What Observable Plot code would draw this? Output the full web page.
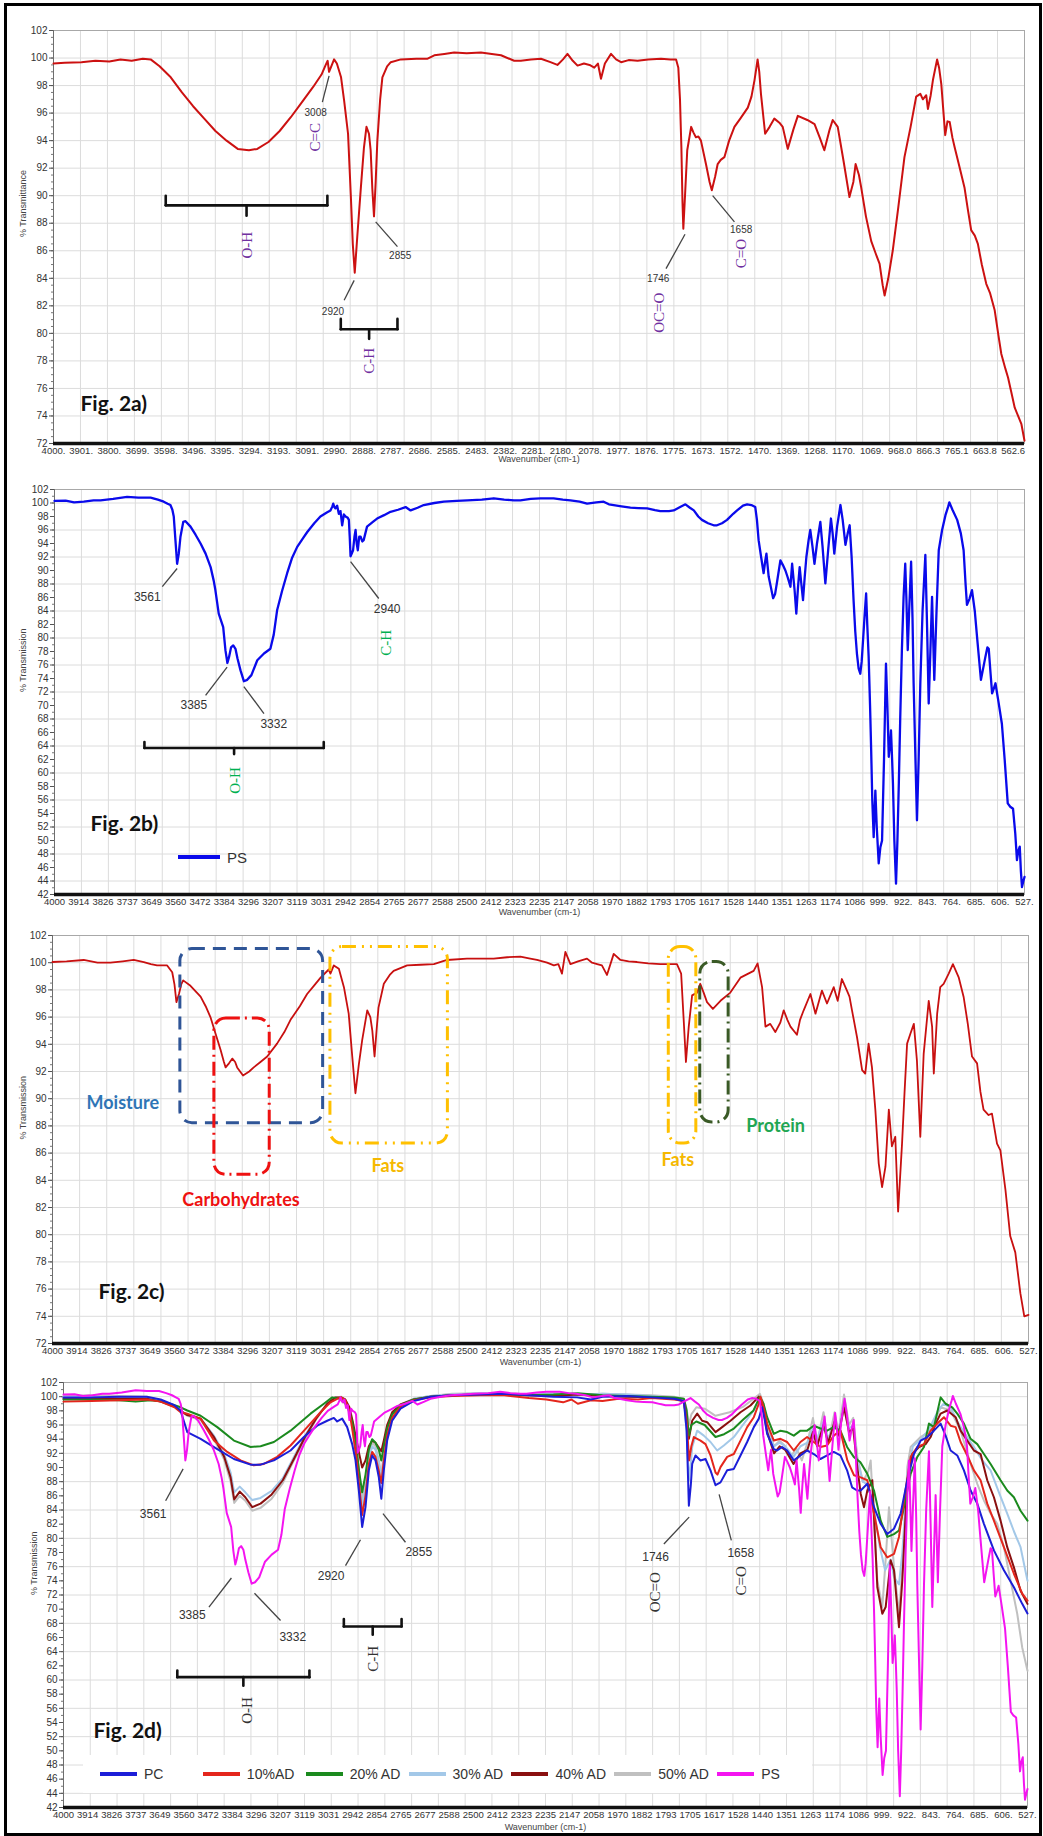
<!DOCTYPE html>
<html>
<head>
<meta charset="utf-8">
<script src="https://cdn.jsdelivr.net/npm/d3@7"></script>
<script src="https://cdn.jsdelivr.net/npm/@observablehq/plot@0.6"></script>
<style>
  body { margin: 0; background: #fff; }
  #wrap { position: relative; width: 1043px; height: 1836px; overflow: hidden; background: #fff; font-family: "Liberation Sans", Arial, sans-serif; }
  .panel { position: absolute; left: 0; }
  #frame { position: absolute; left: 4px; top: 3px; width: 1032px; height: 1827px; border: 3px solid #000; pointer-events: none; }
  .legend { position: absolute; display: flex; align-items: center; color: #333; }
  .item { display: flex; align-items: center; }
  .sw { display: inline-block; height: 4px; margin-right: 7px; }
</style>
</head>
<body>
<div id="wrap"></div>
<script>
// ---------------- DATA ----------------
// Tick labels as printed by the instrument software
const xLabelsA = ["4000.","3901.","3800.","3699.","3598.","3496.","3395.","3294.","3193.","3091.","2990.","2888.","2787.","2686.","2585.","2483.","2382.","2281.","2180.","2078.","1977.","1876.","1775.","1673.","1572.","1470.","1369.","1268.","1170.","1069.","968.0","866.3","765.1","663.8","562.6"];
const xLabelsBCD = ["4000","3914","3826","3737","3649","3560","3472","3384","3296","3207","3119","3031","2942","2854","2765","2677","2588","2500","2412","2323","2235","2147","2058","1970","1882","1793","1705","1617","1528","1440","1351","1263","1174","1086","999.","922.","843.","764.","685.","606.","527."];

// Fig. 2a) spectrum [wavenumber, %T]
const specA = [[4000,99.6],[3960,99.65],[3900,99.7],[3850,99.8],[3800,99.75],[3760,99.9],[3720,99.8],[3680,99.95],[3652,99.9],[3620,99.4],[3580,98.6],[3540,97.5],[3500,96.5],[3460,95.6],[3420,94.7],[3380,94.0],[3340,93.4],[3300,93.3],[3270,93.4],[3230,93.9],[3190,94.7],[3150,95.7],[3110,96.8],[3070,97.9],[3040,98.8],[3025,99.5],[3018,99.8],[3013,99.0],[3005,99.4],[2995,99.9],[2985,99.6],[2970,98.6],[2959,96.9],[2945,94.5],[2935,90.0],[2928,86.5],[2921,84.4],[2912,87.0],[2899,90.6],[2888,93.5],[2879,95.0],[2870,94.5],[2864,93.3],[2858,90.5],[2852,88.5],[2846,91.0],[2840,94.0],[2830,97.0],[2822,98.6],[2805,99.4],[2792,99.7],[2756,99.9],[2700,99.95],[2660,99.95],[2636,100.2],[2600,100.3],[2565,100.4],[2520,100.35],[2469,100.4],[2430,100.3],[2397,100.2],[2350,99.8],[2326,99.8],[2290,99.9],[2254,99.95],[2220,99.7],[2195,99.5],[2175,99.9],[2159,100.3],[2140,99.8],[2123,99.45],[2100,99.6],[2080,99.5],[2063,99.3],[2050,99.6],[2039,98.5],[2025,99.6],[2003,100.3],[1985,99.9],[1967,99.7],[1940,99.85],[1908,99.8],[1870,99.9],[1824,99.95],[1790,99.9],[1770,99.9],[1762,99.3],[1756,97.0],[1751,93.5],[1747,89.5],[1744,87.6],[1738,90.0],[1730,93.3],[1716,95.0],[1708,94.6],[1699,94.25],[1690,94.3],[1681,94.0],[1663,92.3],[1650,91.0],[1642,90.4],[1630,91.4],[1621,92.3],[1610,92.6],[1597,92.8],[1580,94.0],[1561,95.0],[1540,95.6],[1513,96.4],[1500,97.2],[1489,98.4],[1478,99.9],[1472,99.0],[1466,97.4],[1451,94.5],[1435,95.0],[1418,95.6],[1400,95.3],[1388,95.0],[1370,93.4],[1350,94.8],[1334,95.8],[1300,95.5],[1274,95.2],[1255,94.2],[1239,93.3],[1220,94.8],[1209,95.5],[1191,95.0],[1170,92.5],[1149,89.9],[1135,91.0],[1127,92.3],[1115,91.5],[1107,90.6],[1090,88.5],[1071,86.7],[1055,85.8],[1041,85.05],[1030,83.5],[1023,82.75],[1010,84.0],[994,86.0],[975,89.0],[952,92.8],[930,95.0],[910,97.2],[895,97.4],[886,97.0],[874,97.3],[868,96.3],[858,97.3],[850,98.4],[835,99.9],[828,99.3],[820,98.1],[806,94.4],[798,95.4],[790,95.35],[780,94.2],[772,93.5],[755,92.1],[737,90.6],[725,89.0],[713,87.5],[700,87.1],[689,86.5],[675,85.0],[659,83.6],[645,82.9],[629,81.7],[615,79.8],[605,78.5],[590,77.4],[581,76.8],[570,75.8],[557,74.6],[545,74.0],[533,73.4],[522,72.2]];

// PS spectrum (Fig. 2b, also PS in Fig. 2d)
const specPS = [[4000,100.3],[3960,100.35],[3930,100.1],[3895,100.2],[3860,100.4],[3835,100.4],[3790,100.6],[3740,100.9],[3700,100.8],[3656,100.8],[3630,100.5],[3609,100.2],[3595,99.9],[3585,99.7],[3578,99.0],[3573,98.0],[3567,94.5],[3561,91.0],[3555,92.5],[3549,95.0],[3539,97.2],[3531,97.3],[3513,96.5],[3495,95.3],[3477,94.0],[3459,92.5],[3441,90.5],[3430,88.5],[3424,87.1],[3412,83.6],[3396,81.6],[3388,78.2],[3381,76.3],[3375,77.2],[3368,78.6],[3360,78.9],[3352,78.4],[3345,77.0],[3334,75.2],[3322,73.6],[3310,73.8],[3295,74.5],[3274,76.7],[3250,77.7],[3227,78.4],[3215,80.5],[3203,84.1],[3185,87.0],[3167,89.6],[3150,91.8],[3131,93.5],[3110,94.8],[3095,95.7],[3070,97.0],[3048,98.0],[3025,98.6],[3012,98.9],[3005,99.5],[3002,99.9],[2998,99.4],[2994,99.2],[2988,99.6],[2982,98.4],[2976,98.8],[2970,96.7],[2964,98.3],[2958,98.0],[2950,97.8],[2946,97.5],[2943,95.0],[2940,92.1],[2935,92.6],[2931,93.0],[2926,95.0],[2922,96.0],[2918,94.0],[2914,93.0],[2909,95.0],[2904,95.0],[2898,94.3],[2893,94.5],[2881,96.5],[2860,97.2],[2845,97.7],[2820,98.2],[2797,98.7],[2770,99.0],[2743,99.4],[2725,98.9],[2700,99.3],[2678,99.7],[2640,100.0],[2606,100.2],[2560,100.3],[2522,100.4],[2470,100.5],[2427,100.7],[2390,100.5],[2355,100.4],[2332,100.4],[2295,100.6],[2260,100.7],[2213,100.7],[2180,100.5],[2153,100.4],[2120,100.2],[2093,99.9],[2060,100.1],[2034,100.2],[2015,99.8],[1998,99.7],[1970,99.5],[1938,99.3],[1910,99.25],[1878,99.2],[1850,98.95],[1831,98.8],[1800,98.8],[1783,98.9],[1760,99.4],[1741,99.8],[1725,99.3],[1711,98.9],[1695,98.0],[1682,97.5],[1660,97.0],[1640,96.7],[1628,96.7],[1610,97.0],[1592,97.5],[1570,98.4],[1556,98.9],[1535,99.6],[1520,99.8],[1505,99.7],[1491,99.4],[1485,97.5],[1479,94.5],[1470,92.0],[1461,89.6],[1455,91.5],[1451,92.5],[1443,89.1],[1435,87.5],[1427,85.9],[1420,86.5],[1413,88.3],[1401,91.5],[1392,90.8],[1383,90.0],[1375,89.0],[1365,87.6],[1359,91.0],[1350,87.0],[1344,83.6],[1338,87.5],[1332,90.5],[1326,88.0],[1320,85.6],[1314,89.0],[1308,92.0],[1300,94.5],[1294,96.0],[1286,93.5],[1279,91.0],[1270,94.0],[1258,97.2],[1250,93.5],[1240,88.1],[1230,93.0],[1220,97.7],[1214,95.5],[1208,92.5],[1198,96.5],[1186,99.7],[1178,97.5],[1168,93.8],[1160,95.5],[1153,96.7],[1146,92.0],[1139,85.6],[1133,81.0],[1127,77.7],[1121,75.5],[1115,74.7],[1110,76.5],[1105,79.7],[1100,83.0],[1094,86.6],[1090,82.0],[1085,77.2],[1080,70.0],[1076,63.4],[1072,56.0],[1067,50.5],[1064,54.0],[1061,57.4],[1056,52.0],[1049,46.6],[1043,49.0],[1037,50.0],[1030,62.0],[1023,76.2],[1018,70.0],[1013,62.4],[1009,64.0],[1005,66.3],[1001,62.0],[998,58.4],[993,50.0],[987,43.6],[982,50.0],[977,58.4],[972,68.0],[966,78.2],[960,86.0],[954,91.0],[950,86.0],[945,78.2],[940,84.0],[933,91.3],[928,83.0],[924,73.3],[918,63.0],[912,53.0],[906,62.0],[900,73.3],[892,84.0],[882,92.3],[876,82.0],[870,70.3],[864,78.0],[858,86.1],[854,80.0],[850,73.8],[842,84.0],[834,93.0],[822,96.0],[810,98.2],[800,99.5],[796,100.1],[785,99.0],[768,97.5],[755,95.5],[745,93.0],[738,88.0],[733,84.9],[724,85.8],[715,87.1],[705,84.0],[697,80.2],[690,77.0],[683,73.8],[675,75.5],[667,77.2],[660,78.6],[655,78.4],[649,75.0],[643,71.8],[637,72.5],[631,73.3],[620,70.5],[608,67.3],[598,62.0],[587,55.5],[578,55.0],[568,54.7],[560,51.0],[554,47.1],[549,48.5],[544,49.1],[540,45.5],[536,43.1],[531,44.0],[527,44.6]];

// Fig. 2c) spectrum
const specC = [[4000,100.05],[3950,100.1],[3889,100.2],[3840,100.0],[3794,100.0],[3750,100.1],[3711,100.2],[3675,100.05],[3650,99.9],[3628,99.8],[3592,99.8],[3574,99.3],[3566,98.4],[3559,97.1],[3550,97.7],[3542,98.4],[3535,98.7],[3509,98.3],[3473,97.5],[3455,96.8],[3438,96.0],[3420,94.8],[3402,93.6],[3390,92.7],[3384,92.3],[3372,92.6],[3360,92.95],[3350,92.7],[3343,92.3],[3322,91.7],[3300,92.0],[3284,92.3],[3260,92.7],[3236,93.1],[3201,94.05],[3175,94.9],[3153,95.8],[3120,96.8],[3094,97.7],[3070,98.3],[3046,98.9],[3017,99.5],[3011,99.2],[2999,99.8],[2981,99.55],[2963,98.2],[2946,96.25],[2935,93.5],[2922,90.4],[2910,92.5],[2898,94.3],[2880,96.5],[2869,96.0],[2862,95.0],[2854,93.1],[2847,95.0],[2840,96.7],[2821,98.45],[2800,99.1],[2786,99.4],[2738,99.8],[2690,99.85],[2643,99.9],[2596,100.2],[2525,100.3],[2430,100.3],[2382,100.4],[2335,100.45],[2300,100.3],[2276,100.2],[2240,100.0],[2216,99.8],[2200,99.9],[2187,99.2],[2175,100.8],[2157,99.9],[2130,100.1],[2098,100.3],[2080,100.0],[2062,99.9],[2045,99.8],[2027,99.1],[2003,100.65],[1979,100.2],[1950,100.1],[1920,100.05],[1880,99.95],[1837,99.9],[1800,99.9],[1778,99.9],[1763,99.2],[1754,95.8],[1746,92.7],[1736,95.3],[1724,97.6],[1706,97.8],[1695,98.45],[1683,97.8],[1671,97.1],[1650,96.6],[1623,97.2],[1588,97.8],[1552,98.9],[1505,99.4],[1491,99.95],[1475,98.2],[1463,95.3],[1446,95.5],[1428,94.9],[1410,95.6],[1398,96.5],[1385,95.8],[1374,95.3],[1351,94.7],[1340,95.8],[1327,96.5],[1303,97.7],[1285,96.25],[1262,97.95],[1244,97.0],[1220,98.2],[1206,97.2],[1191,98.8],[1173,97.95],[1164,97.5],[1155,96.5],[1137,94.5],[1119,92.1],[1108,91.85],[1096,94.05],[1084,92.3],[1072,89.2],[1060,85.25],[1048,83.5],[1036,85.0],[1024,89.2],[1013,86.5],[1001,87.2],[991,81.7],[977,86.7],[968,90.5],[959,94.05],[947,94.8],[935,95.5],[924,92.8],[912,87.2],[900,93.3],[882,97.2],[870,95.3],[864,91.85],[852,96.25],[841,98.2],[829,98.45],[811,99.2],[796,99.9],[775,98.9],[758,97.5],[743,95.5],[728,93.1],[710,92.6],[698,90.5],[687,89.2],[669,88.8],[657,88.9],[639,86.7],[627,86.2],[609,83.3],[592,79.9],[574,78.7],[556,75.7],[542,74.0],[527,74.1]];

// Fig. 2d) series
const dPC = [[4000,99.9],[3900,99.9],[3800,100.0],[3700,100.0],[3650,99.6],[3600,98.8],[3578,98.0],[3566,96.5],[3554,95.0],[3506,94.05],[3446,92.6],[3386,91.2],[3326,90.4],[3290,90.4],[3242,91.0],[3182,92.4],[3134,94.3],[3086,95.9],[3050,96.6],[3026,97.0],[3014,96.5],[2996,96.9],[2978,95.7],[2960,93.3],[2948,91.0],[2936,86.75],[2924,81.6],[2912,84.4],[2900,89.6],[2888,91.7],[2876,91.0],[2864,88.6],[2855,85.6],[2846,89.6],[2834,93.8],[2816,96.6],[2786,98.3],[2738,99.4],[2678,100.0],[2600,100.2],[2500,100.3],[2412,100.4],[2323,100.2],[2235,100.0],[2150,99.9],[2100,99.6],[2058,100.0],[1970,100.1],[1882,99.9],[1800,99.7],[1765,99.4],[1755,95.2],[1747,84.6],[1740,87.5],[1735,90.5],[1723,91.7],[1705,91.0],[1687,91.2],[1669,89.6],[1651,87.5],[1633,87.9],[1609,89.6],[1585,89.8],[1561,91.7],[1537,93.6],[1513,95.7],[1495,96.9],[1483,98.5],[1475,97.0],[1465,94.75],[1441,92.6],[1429,92.4],[1411,92.9],[1393,92.4],[1369,91.0],[1345,91.7],[1321,92.4],[1297,91.9],[1273,91.2],[1249,91.7],[1225,92.2],[1201,91.7],[1177,89.6],[1159,87.2],[1141,86.75],[1128,86.75],[1104,87.7],[1080,84.4],[1056,82.05],[1032,80.6],[1008,81.35],[984,83.5],[960,88.2],[936,91.9],[912,93.8],[888,94.3],[864,95.2],[840,96.2],[822,94.5],[804,92.4],[780,91.7],[756,89.6],[732,86.75],[708,84.9],[684,82.05],[648,78.3],[612,75.5],[576,73.1],[546,70.75],[527,69.4]];
const d10 = [[4000,99.3],[3900,99.4],[3800,99.5],[3700,99.6],[3650,99.3],[3600,98.5],[3578,97.8],[3554,97.6],[3506,96.9],[3458,93.8],[3410,92.2],[3362,91.0],[3314,90.3],[3278,90.5],[3230,91.5],[3182,93.1],[3122,95.7],[3074,97.8],[3038,99.2],[3014,99.7],[3000,99.9],[2985,99.5],[2970,98.0],[2958,95.0],[2945,91.5],[2935,87.5],[2924,83.3],[2912,86.0],[2900,90.5],[2888,92.2],[2876,91.5],[2864,89.5],[2855,87.8],[2846,91.0],[2834,94.5],[2816,97.0],[2786,98.6],[2738,99.5],[2678,99.9],[2600,100.1],[2500,100.2],[2412,100.2],[2323,99.8],[2260,99.6],[2200,99.2],[2170,99.6],[2147,99.0],[2100,99.5],[2058,99.4],[2000,99.7],[1930,99.6],[1882,99.8],[1800,99.6],[1765,99.4],[1755,96.5],[1746,91.0],[1738,93.0],[1729,94.3],[1705,93.8],[1687,93.3],[1669,91.7],[1651,89.3],[1644,89.0],[1633,90.05],[1609,91.5],[1585,91.9],[1561,93.8],[1537,95.7],[1513,97.1],[1495,99.0],[1489,100.0],[1478,98.5],[1465,96.2],[1441,93.8],[1417,94.05],[1393,93.6],[1369,92.4],[1345,93.6],[1321,94.3],[1297,93.6],[1273,92.9],[1249,93.1],[1225,94.5],[1201,95.2],[1176,91.0],[1152,88.9],[1128,88.6],[1104,88.2],[1080,83.5],[1056,78.75],[1032,77.3],[1008,77.8],[990,80.2],[972,85.35],[948,91.5],[924,92.9],[900,93.3],[876,95.2],[852,96.2],[828,97.1],[804,95.9],[786,95.7],[768,93.6],[744,91.7],[720,89.6],[696,88.2],[672,84.9],[648,82.5],[612,78.75],[576,75.0],[546,72.2],[527,71.2]];
const d20 = [[4000,99.6],[3900,99.6],[3800,99.5],[3740,99.3],[3686,99.5],[3640,99.3],[3600,98.8],[3578,98.5],[3554,98.05],[3506,97.3],[3446,95.7],[3386,93.8],[3326,92.9],[3290,93.0],[3242,93.6],[3182,95.2],[3110,97.6],[3062,99.0],[3032,99.9],[3002,99.7],[2978,98.75],[2960,96.5],[2945,93.0],[2935,89.5],[2924,86.5],[2912,89.0],[2900,92.5],[2888,94.0],[2876,93.5],[2864,92.5],[2855,91.0],[2846,93.0],[2834,95.5],[2816,97.5],[2786,98.8],[2738,99.6],[2678,100.0],[2600,100.2],[2500,100.3],[2412,100.3],[2323,100.2],[2235,100.3],[2147,100.5],[2058,100.2],[1970,100.1],[1882,100.0],[1800,99.9],[1765,99.7],[1755,98.0],[1747,94.5],[1738,96.0],[1720,96.5],[1690,96.0],[1651,94.3],[1620,94.7],[1585,95.5],[1550,96.8],[1515,98.0],[1491,100.0],[1478,99.0],[1465,97.1],[1441,94.75],[1417,95.2],[1393,95.0],[1369,94.5],[1345,95.2],[1321,95.2],[1297,95.9],[1273,95.5],[1249,95.2],[1225,95.7],[1201,95.2],[1177,92.9],[1153,91.5],[1129,90.75],[1104,89.1],[1080,86.75],[1056,82.5],[1032,80.2],[1008,80.6],[990,81.1],[972,84.4],[948,89.1],[924,91.5],[900,92.9],[882,96.2],[864,95.7],[840,99.9],[822,99.0],[798,98.5],[780,97.6],[756,96.2],[732,94.05],[708,93.3],[684,91.9],[660,90.5],[624,88.2],[600,86.75],[576,85.8],[552,83.9],[527,82.5]];
const d30 = [[4000,100.0],[3900,100.0],[3800,99.9],[3700,99.9],[3650,99.5],[3600,98.7],[3578,98.0],[3554,97.5],[3506,96.9],[3458,94.5],[3422,92.0],[3398,89.3],[3385,86.5],[3365,87.3],[3345,86.5],[3320,85.4],[3290,85.7],[3250,86.7],[3210,88.5],[3170,91.5],[3130,94.5],[3090,97.0],[3050,99.0],[3020,99.9],[3000,99.8],[2985,99.5],[2970,98.0],[2958,95.5],[2945,91.0],[2935,88.0],[2924,84.5],[2912,87.0],[2900,91.0],[2888,93.0],[2876,92.5],[2864,90.5],[2855,88.5],[2846,91.5],[2834,95.0],[2816,97.3],[2786,98.8],[2738,99.7],[2678,100.1],[2600,100.3],[2500,100.5],[2412,100.4],[2323,100.3],[2235,100.4],[2147,100.3],[2058,100.4],[1970,100.3],[1882,100.1],[1800,99.8],[1765,99.5],[1755,95.0],[1747,88.2],[1740,90.5],[1735,92.9],[1717,95.2],[1693,94.5],[1669,93.6],[1645,92.4],[1621,93.1],[1585,94.3],[1549,96.2],[1513,98.05],[1491,99.9],[1478,98.5],[1465,95.5],[1440,93.0],[1420,93.5],[1400,93.0],[1370,91.5],[1345,93.0],[1320,93.5],[1300,95.5],[1285,94.0],[1262,96.5],[1245,94.0],[1222,96.5],[1208,95.0],[1188,99.0],[1170,95.5],[1155,96.0],[1140,91.0],[1120,88.0],[1100,87.5],[1080,84.0],[1060,79.0],[1040,75.5],[1020,77.0],[1008,74.5],[990,73.5],[978,78.0],[960,89.0],[940,93.0],[910,94.0],[880,95.5],[850,98.0],[830,99.0],[804,98.5],[780,96.5],[756,95.0],[720,92.9],[690,91.0],[660,89.6],[630,86.5],[600,83.5],[576,81.0],[552,78.75],[527,74.0]];
const d40 = [[4000,99.7],[3900,99.8],[3800,99.7],[3700,99.7],[3650,99.3],[3600,98.6],[3578,98.0],[3554,97.4],[3506,96.9],[3458,94.3],[3422,91.6],[3398,88.6],[3385,85.5],[3365,86.6],[3345,85.8],[3320,84.4],[3290,84.9],[3250,86.2],[3210,88.2],[3170,91.2],[3130,94.3],[3090,96.9],[3050,99.0],[3020,99.9],[3000,99.9],[2985,99.6],[2970,98.5],[2958,96.5],[2945,94.0],[2935,92.0],[2924,90.0],[2912,91.0],[2900,93.0],[2888,93.8],[2876,93.5],[2864,92.8],[2855,92.3],[2846,93.8],[2834,96.0],[2816,97.8],[2786,98.9],[2738,99.6],[2678,100.0],[2600,100.2],[2500,100.3],[2412,100.3],[2323,100.2],[2235,100.1],[2147,100.3],[2058,100.1],[1970,100.0],[1882,99.9],[1800,99.8],[1765,99.3],[1759,97.8],[1747,94.05],[1735,96.6],[1717,97.6],[1699,96.6],[1681,96.4],[1651,95.0],[1627,95.7],[1597,96.6],[1561,97.8],[1525,98.75],[1495,100.0],[1480,98.5],[1465,95.0],[1440,92.0],[1420,93.0],[1400,92.5],[1370,90.5],[1345,92.0],[1320,92.5],[1300,95.0],[1285,93.0],[1262,96.0],[1245,93.5],[1222,96.5],[1208,94.5],[1188,98.5],[1170,95.0],[1155,95.5],[1140,90.0],[1128,86.3],[1116,84.4],[1104,86.75],[1086,88.2],[1068,73.1],[1050,69.35],[1038,70.3],[1020,76.9],[1008,75.5],[990,67.45],[978,74.05],[960,88.2],[942,91.9],[918,92.9],[894,93.3],[876,94.3],[858,96.2],[840,97.6],[816,98.05],[786,97.1],[768,95.2],[744,93.8],[720,92.4],[696,91.9],[672,88.2],[648,85.8],[624,82.5],[600,78.75],[576,75.9],[552,72.6],[527,70.75]];
const d50 = [[4000,100.1],[3900,100.2],[3800,100.1],[3700,100.0],[3650,99.5],[3600,98.7],[3578,98.0],[3554,97.3],[3506,96.7],[3458,94.0],[3422,91.2],[3398,88.0],[3385,85.0],[3365,86.0],[3345,85.3],[3320,83.9],[3290,84.3],[3250,85.6],[3210,87.8],[3170,91.0],[3130,94.0],[3090,96.8],[3050,99.0],[3020,99.9],[3000,100.0],[2985,99.6],[2970,98.3],[2958,96.0],[2945,92.5],[2935,89.5],[2924,85.5],[2912,88.0],[2900,92.0],[2888,93.5],[2876,93.0],[2864,91.0],[2855,89.0],[2846,92.0],[2834,95.3],[2816,97.5],[2786,98.9],[2738,99.7],[2678,100.1],[2600,100.4],[2500,100.5],[2412,100.5],[2323,100.3],[2235,100.5],[2147,100.2],[2058,100.4],[1970,100.3],[1882,100.2],[1800,100.0],[1765,99.7],[1755,98.3],[1747,96.0],[1738,97.5],[1720,98.5],[1690,98.3],[1651,97.3],[1600,97.8],[1550,98.6],[1491,100.4],[1478,99.0],[1465,95.5],[1440,93.0],[1420,93.8],[1400,93.0],[1380,91.5],[1360,92.7],[1340,91.0],[1320,93.5],[1300,97.0],[1285,93.5],[1262,97.8],[1245,93.5],[1222,97.8],[1208,95.0],[1188,100.3],[1170,96.0],[1155,97.0],[1140,91.5],[1120,88.0],[1100,89.5],[1092,91.0],[1080,82.0],[1068,74.05],[1050,70.3],[1038,77.0],[1026,84.4],[1008,75.9],[990,69.35],[972,78.75],[960,90.05],[948,92.9],[912,94.3],[876,95.2],[840,98.5],[804,98.05],[768,95.2],[732,90.5],[708,87.7],[684,85.35],[660,83.5],[636,82.05],[612,78.75],[588,74.05],[564,69.35],[546,64.6],[527,61.3]];

const seriesD = [
  {name: "PC", data: dPC, color: "#1c1ed8"},
  {name: "10%AD", data: d10, color: "#e4261c"},
  {name: "20% AD", data: d20, color: "#1b8a1e"},
  {name: "30% AD", data: d30, color: "#a3c8e8"},
  {name: "40% AD", data: d40, color: "#8a1010"},
  {name: "50% AD", data: d50, color: "#c0c0c0"},
  {name: "PS", data: specPS, color: "#f414f0"}
];
const drawOrderD = ["50% AD", "30% AD", "40% AD", "20% AD", "10%AD", "PC", "PS"];

// Annotations (data coordinates: wavenumber, %T)
const peakLabelsA = [{w:3061,t:96.0,label:"3008"},{w:2999,t:81.6,label:"2920"},{w:2758,t:85.65,label:"2855"},{w:1834,t:83.96,label:"1746"},{w:1537,t:87.5,label:"1658"}];
const groupLabelsA = [{w:3061,t:94.25,label:"C=C"},{w:3306,t:86.4,label:"O-H"},{w:2870,t:78.0,label:"C-H"},{w:1830,t:81.5,label:"OC=O"},{w:1535,t:85.8,label:"C=O"}];
const leadersA = [{w1:3013,t1:98.7,w2:3037,t2:96.8},{w1:2923,t1:83.85,w2:2959,t2:82.4},{w1:2846,t1:88.1,w2:2768,t2:86.3},{w1:1738,t1:87.2,w2:1806,t2:84.7},{w1:1639,t1:90.0,w2:1561,t2:88.1}];
const bracesA = [{w1:3598,w2:3019,t:89.3,tEnd:90.0,tMid:88.55},{w1:2971,w2:2768,t:80.3,tEnd:81.05,tMid:79.6}];

const peakLabelsB = [{w:3668,t:86.1,label:"3561"},{w:3501,t:70.0,label:"3385"},{w:3215,t:67.2,label:"3332"},{w:2809,t:84.3,label:"2940"}];
const groupLabelsB = [{w:2812,t:79.3,label:"C-H"},{w:3354,t:58.9,label:"O-H"}];
const leadersB = [{w1:3561,t1:90.3,w2:3614,t2:87.6},{w1:3382,t1:75.7,w2:3459,t2:71.5},{w1:3322,t1:72.8,w2:3250,t2:68.8},{w1:2940,t1:91.3,w2:2839,t2:85.85}];
const bracesB = [{w1:3678,w2:3036,t:63.7,tEnd:64.6,tMid:62.8}];

const boxesC = [
  {name:"Moisture", w1:3545, w2:3037, t1:88.2, t2:101.0},
  {name:"Carbohydrates", w1:3424, w2:3227, t1:84.4, t2:95.9},
  {name:"Fats1", w1:3011, w2:2593, t1:86.7, t2:101.15},
  {name:"Fats2", w1:1807, w2:1709, t1:86.7, t2:101.15},
  {name:"Protein", w1:1695, w2:1594, t1:88.25, t2:100.05}
];
const boxLabelsC = [
  {w:3750,t:89.65,label:"Moisture",kind:"Moisture"},
  {w:3329,t:82.5,label:"Carbohydrates",kind:"Carbohydrates"},
  {w:2807,t:85.0,label:"Fats",kind:"Fats1"},
  {w:1775,t:85.5,label:"Fats",kind:"Fats2"},
  {w:1427,t:88.0,label:"Protein",kind:"Protein"}
];

const peakLabelsD = [{w:3677,t:83.4,label:"3561"},{w:3536,t:69.1,label:"3385"},{w:3174,t:66.1,label:"3332"},{w:3036,t:74.65,label:"2920"},{w:2720,t:78.1,label:"2855"},{w:1867,t:77.3,label:"1746"},{w:1560,t:77.9,label:"1658"}];
const groupLabelsD = [{w:2884,t:63.0,label:"C-H"},{w:3338,t:55.7,label:"O-H"},{w:1870,t:72.4,label:"OC=O"},{w:1557,t:74.0,label:"C=O"}];
const leadersD = [{w1:3569,t1:89.8,w2:3632,t2:85.3},{w1:3395,t1:74.4,w2:3476,t2:70.3},{w1:3312,t1:72.25,w2:3218,t2:68.4},{w1:2930,t1:79.8,w2:2984,t2:76.15},{w1:2849,t1:83.5,w2:2768,t2:79.45},{w1:1746,t1:83.0,w2:1837,t2:79.2},{w1:1638,t1:86.2,w2:1594,t2:79.7}];
const bracesD = [{w1:2990,w2:2782,t:67.55,tEnd:68.6,tMid:66.4},{w1:3590,w2:3114,t:60.4,tEnd:61.35,tMid:59.2}];

// ---------------- STYLES ----------------
const boxStyle = {
  Moisture: {stroke:"#2f5597", dash:"13,8", text:"#2e75b6"},
  Carbohydrates: {stroke:"#ee1111", dash:"14,5,2,5", text:"#ee1111"},
  Fats1: {stroke:"#ffc000", dash:"14,6,2,6,2,6", text:"#f5b800"},
  Fats2: {stroke:"#ffc000", dash:"14,5,2,5", text:"#f5b800"},
  Protein: {stroke:"#3a5a26", dash:"14,5,2,5", text:"#1fa653"}
};
const sans = "'Liberation Sans', Arial, sans-serif";
const serif = "'Liberation Serif', 'Times New Roman', serif";
const boldFont = "Lato, 'Open Sans', sans-serif";
const wrap = document.getElementById("wrap");

function braceLinks(braces) {
  const out = [];
  for (const b of braces) {
    const wm = (b.w1 + b.w2) / 2;
    out.push({w1:b.w1,t1:b.t,w2:b.w2,t2:b.t});
    out.push({w1:b.w1,t1:b.t,w2:b.w1,t2:b.tEnd});
    out.push({w1:b.w2,t1:b.t,w2:b.w2,t2:b.tEnd});
    out.push({w1:wm,t1:b.t,w2:wm,t2:b.tMid});
  }
  return out;
}

function annotationMarks(peaks, groups, leaders, braces, peakSize, groupColor, groupSize) {
  return [
    Plot.link(leaders, {x1:"w1", y1:"t1", x2:"w2", y2:"t2", stroke:"#444", strokeWidth:1.3}),
    Plot.link(braceLinks(braces), {x1:"w1", y1:"t1", x2:"w2", y2:"t2", stroke:"#111", strokeWidth:2.6, strokeLinecap:"round"}),
    Plot.text(peaks, {x:"w", y:"t", text:"label", fontSize:peakSize, fill:"#333", fontFamily:sans}),
    Plot.text(groups, {x:"w", y:"t", text:"label", rotate:-90, fontSize:groupSize, fill:groupColor, fontFamily:serif})
  ];
}

function makePanel(cfg, contentMarks) {
  const [x0, x1] = cfg.xDomain;
  const [y0, y1] = cfg.yDomain;
  const gridXs = d3.range(37).map(k => x0 - k * (x0 - x1) / 36);
  const gridYs = d3.range(cfg.gridStart, y1 + 0.001, cfg.gridStep);
  const majorY = d3.range(y0, y1 + 0.001, 2);
  const minorY = d3.range(y0, y1 + 0.001, cfg.minorStep);
  const svg = Plot.plot({
    width: 1043, height: cfg.height,
    marginTop: cfg.mt, marginBottom: cfg.mb, marginLeft: cfg.ml, marginRight: cfg.mr,
    x: {type: "linear", domain: cfg.xDomain},
    y: {type: "linear", domain: cfg.yDomain},
    style: {fontFamily: sans, background: "transparent", overflow: "visible"},
    marks: [
      Plot.gridX(gridXs, {stroke: "#dcdcdc", strokeOpacity: 1}),
      Plot.gridY(gridYs, {stroke: "#dcdcdc", strokeOpacity: 1}),
      Plot.frame({stroke: "#a8a8a8"}),
      Plot.ruleX([x0], {stroke: "#6e6e6e"}),
      Plot.axisY(minorY, {tickSize: 2, fill: "none", stroke: "#777", label: null}),
      Plot.axisY(majorY, {tickSize: 4, tickPadding: 2, fontSize: cfg.yFont, fill: "#333", stroke: "#555", label: null}),
      Plot.axisX(cfg.tickPos, {tickSize: 0, tickPadding: 4, fontSize: 9.5, fill: "#333", label: null,
        tickFormat: d => cfg.tickLabels[cfg.tickPos.indexOf(d)]}),
      Plot.text(["Wavenumber (cm-1)"], {text: d => d, frameAnchor: "bottom", dy: cfg.xTitleDy, fontSize: 9, fill: "#444"}),
      Plot.text([cfg.yTitle], {text: d => d, frameAnchor: "left", rotate: -90, dx: cfg.yTitleDx, fontSize: 9, fill: "#444"}),
      ...contentMarks,
      Plot.ruleY([y0], {stroke: "#111", strokeWidth: 3.5}),
      Plot.text([cfg.fig], {text: d => d, frameAnchor: "bottom-left", textAnchor: "start", dx: cfg.figDx, dy: cfg.figDy,
        fontSize: 21, fontWeight: "bold", fontFamily: boldFont, fill: "#111"})
    ]
  });
  const div = document.createElement("div");
  div.className = "panel";
  div.style.top = cfg.top + "px";
  div.appendChild(svg);
  wrap.appendChild(div);
}

const tickPosA = xLabelsA.map(Number);
const tickPosBCD = xLabelsBCD.map((_, i) => 4000 - i * (4000 - 527) / (xLabelsBCD.length - 1));
const line = (data, stroke, strokeWidth) => Plot.line(data, {x: d => d[0], y: d => d[1], stroke, strokeWidth, strokeLinejoin: "round"});

// Panel a
makePanel({top: 0, height: 470, mt: 30, mb: 27, ml: 53, mr: 19, xDomain: [4000, 522], yDomain: [72, 102],
  gridStart: 72, gridStep: 2, minorStep: 0.5, yFont: 10, tickPos: tickPosA, tickLabels: xLabelsA,
  xTitleDy: 18, yTitle: "% Transmittance", yTitleDx: -30, fig: "Fig. 2a)", figDx: 27, figDy: -33},
  [line(specA, "#cc1111", 2),
   ...annotationMarks(peakLabelsA, groupLabelsA, leadersA, bracesA, 10, "#7030a0", 15)]);

// Panel b
makePanel({top: 470, height: 450, mt: 19, mb: 26, ml: 54, mr: 19, xDomain: [4000, 527], yDomain: [42, 102],
  gridStart: 44, gridStep: 4, minorStep: 1, yFont: 10, tickPos: tickPosBCD, tickLabels: xLabelsBCD,
  xTitleDy: 20, yTitle: "% Transmission", yTitleDx: -31, fig: "Fig. 2b)", figDx: 36, figDy: -64},
  [line(specPS, "#0a0aeb", 2.3),
   ...annotationMarks(peakLabelsB, groupLabelsB, leadersB, bracesB, 12, "#00b050", 15)]);

// Panel c
makePanel({top: 920, height: 450, mt: 15, mb: 27, ml: 52, mr: 15, xDomain: [4000, 527], yDomain: [72, 102],
  gridStart: 72, gridStep: 2, minorStep: 0.5, yFont: 10, tickPos: tickPosBCD, tickLabels: xLabelsBCD,
  xTitleDy: 21, yTitle: "% Transmission", yTitleDx: -29, fig: "Fig. 2c)", figDx: 46, figDy: -45},
  [line(specC, "#c81010", 1.8),
   ...boxesC.map(b => Plot.rect([b], {x1: "w1", x2: "w2", y1: "t1", y2: "t2", fill: "none",
      stroke: boxStyle[b.name].stroke, strokeWidth: 3, strokeDasharray: boxStyle[b.name].dash, rx: 12})),
   ...boxLabelsC.map(l => Plot.text([l], {x: "w", y: "t", text: "label", fontSize: 18, fontWeight: "bold",
      fontFamily: boldFont, fill: boxStyle[l.kind].text}))]);

// Panel d
makePanel({top: 1370, height: 466, mt: 12, mb: 29, ml: 63, mr: 16, xDomain: [4000, 527], yDomain: [42, 102],
  gridStart: 44, gridStep: 4, minorStep: 1, yFont: 10, tickPos: tickPosBCD, tickLabels: xLabelsBCD,
  xTitleDy: 22, yTitle: "% Transmission", yTitleDx: -29, fig: "Fig. 2d)", figDx: 30, figDy: -70},
  [...drawOrderD.map(n => { const s = seriesD.find(d => d.name === n); return line(s.data, s.color, 2); }),
   ...annotationMarks(peakLabelsD, groupLabelsD, leadersD, bracesD, 12, "#333", 15)]);

// Legends (inside plot areas)
function legend(items, left, top, width, height, itemWidth, swW, fontSize, bg) {
  const div = document.createElement("div");
  div.className = "legend";
  Object.assign(div.style, {left: left + "px", top: top + "px", width: width + "px", height: height + "px",
    background: bg || "transparent", fontSize: fontSize + "px"});
  for (const it of items) {
    const el = document.createElement("div");
    el.className = "item";
    el.style.width = itemWidth + "px";
    const sw = document.createElement("span");
    sw.className = "sw";
    sw.style.width = swW + "px";
    sw.style.background = it.color;
    const tx = document.createElement("span");
    tx.textContent = it.name;
    el.appendChild(sw); el.appendChild(tx);
    div.appendChild(el);
  }
  wrap.appendChild(div);
}
legend([{name: "PS", color: "#0a0aeb"}], 178, 847, 80, 20, 80, 42, 15);
const legD = document.createElement("div");
Object.assign(legD.style, {position: "absolute", left: "83px", top: "1755px", width: "729px", height: "38px", background: "#fff"});
wrap.appendChild(legD);
legend(seriesD.map(s => ({name: s.name, color: s.color})), 100, 1764, 720, 20, 105, 37, 14);

const frame = document.createElement("div");
frame.id = "frame";
wrap.appendChild(frame);
</script>
</body>
</html>
